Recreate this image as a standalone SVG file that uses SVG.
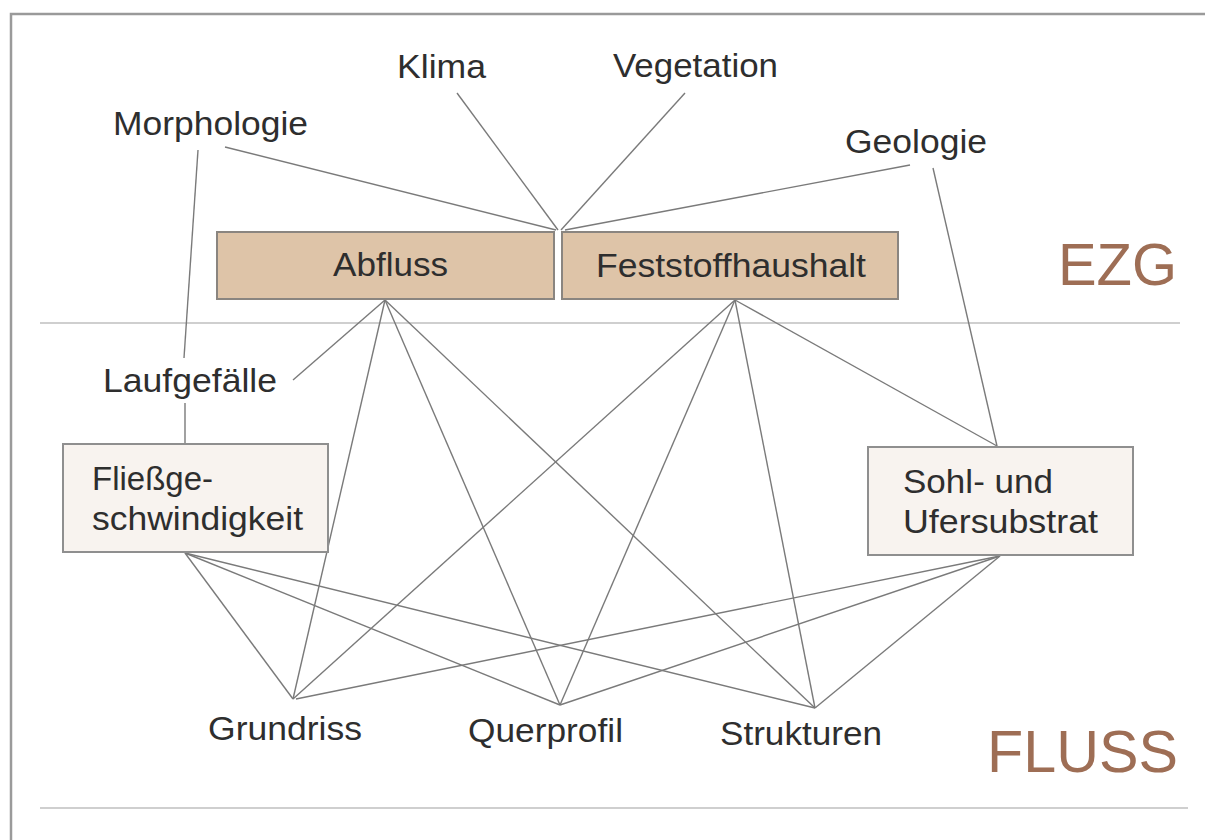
<svg xmlns="http://www.w3.org/2000/svg" width="1205" height="840" viewBox="0 0 1205 840">
<style>
.t{font-family:"Liberation Sans",Arial,Helvetica,sans-serif;font-size:33px;fill:#2e2e2e}
.big{font-family:"Liberation Sans",Arial,Helvetica,sans-serif;font-size:60px;fill:#9e6e55}
.tan{fill:#dec4a8;stroke:#8a8580;stroke-width:2}
.lt{fill:#f8f3ef;stroke:#8f8f8f;stroke-width:2}
.c line{stroke:#7a7a7a;stroke-width:1.4;fill:none}
.sep{stroke:#cfcfcf;stroke-width:2}
</style>
<rect width="1205" height="840" fill="#ffffff"/>
<g id="frame">
<path d="M1205 14 H11 V840" fill="none" stroke="#9a9a9a" stroke-width="2.5"/>
<line class="sep" x1="40" y1="323" x2="1180" y2="323"/>
<line class="sep" x1="40" y1="808" x2="1188" y2="808"/>
</g>
<g id="connectors" class="c">
<line x1="225" y1="147" x2="556" y2="230"/>
<line x1="457" y1="93" x2="558" y2="230"/>
<line x1="685" y1="93" x2="561" y2="230"/>
<line x1="910" y1="165" x2="565" y2="230"/>
<line x1="198" y1="150" x2="184" y2="358"/>
<line x1="185" y1="403" x2="185" y2="444"/>
<line x1="933" y1="168" x2="997" y2="446"/>
<line x1="293" y1="380" x2="385" y2="300"/>
<line x1="385" y1="300" x2="293" y2="699"/>
<line x1="385" y1="300" x2="560" y2="705"/>
<line x1="385" y1="300" x2="815" y2="708"/>
<line x1="735" y1="300" x2="293" y2="699"/>
<line x1="735" y1="300" x2="560" y2="705"/>
<line x1="735" y1="300" x2="815" y2="708"/>
<line x1="735" y1="300" x2="997" y2="446"/>
<line x1="185" y1="553" x2="293" y2="699"/>
<line x1="185" y1="553" x2="560" y2="705"/>
<line x1="185" y1="553" x2="815" y2="708"/>
<line x1="1000" y1="556" x2="296" y2="699"/>
<line x1="1000" y1="556" x2="560" y2="705"/>
<line x1="1000" y1="556" x2="815" y2="708"/>
</g>
<g id="morphologie"><text class="t" x="113" y="135" textLength="195" lengthAdjust="spacingAndGlyphs">Morphologie</text></g>
<g id="klima"><text class="t" x="397" y="78" textLength="89" lengthAdjust="spacingAndGlyphs">Klima</text></g>
<g id="vegetation"><text class="t" x="613" y="77" textLength="165" lengthAdjust="spacingAndGlyphs">Vegetation</text></g>
<g id="geologie"><text class="t" x="845" y="153" textLength="142" lengthAdjust="spacingAndGlyphs">Geologie</text></g>
<g id="abfluss">
<rect class="tan" x="217" y="232" width="337" height="67"/>
<text class="t" x="333" y="276" textLength="115" lengthAdjust="spacingAndGlyphs">Abfluss</text>
</g>
<g id="feststoffhaushalt">
<rect class="tan" x="562" y="232" width="336" height="67"/>
<text class="t" x="596" y="277" textLength="270" lengthAdjust="spacingAndGlyphs">Feststoffhaushalt</text>
</g>
<g id="ezg"><text class="big" x="1058" y="285" textLength="119" lengthAdjust="spacingAndGlyphs">EZG</text></g>
<g id="laufgefaelle"><text class="t" x="103" y="392" textLength="174" lengthAdjust="spacingAndGlyphs">Laufgefälle</text></g>
<g id="fliessgeschwindigkeit">
<rect class="lt" x="63" y="444" width="265" height="108"/>
<text class="t" x="92" y="490" textLength="121" lengthAdjust="spacingAndGlyphs">Fließge-</text>
<text class="t" x="92" y="530" textLength="211" lengthAdjust="spacingAndGlyphs">schwindigkeit</text>
</g>
<g id="sohlsubstrat">
<rect class="lt" x="868" y="447" width="265" height="108"/>
<text class="t" x="903" y="493" textLength="150" lengthAdjust="spacingAndGlyphs">Sohl- und</text>
<text class="t" x="903" y="533" textLength="195" lengthAdjust="spacingAndGlyphs">Ufersubstrat</text>
</g>
<g id="grundriss"><text class="t" x="208" y="740" textLength="154" lengthAdjust="spacingAndGlyphs">Grundriss</text></g>
<g id="querprofil"><text class="t" x="468" y="742" textLength="155" lengthAdjust="spacingAndGlyphs">Querprofil</text></g>
<g id="strukturen"><text class="t" x="720" y="745" textLength="162" lengthAdjust="spacingAndGlyphs">Strukturen</text></g>
<g id="fluss"><text class="big" x="987" y="772" textLength="191" lengthAdjust="spacingAndGlyphs">FLUSS</text></g>
</svg>
